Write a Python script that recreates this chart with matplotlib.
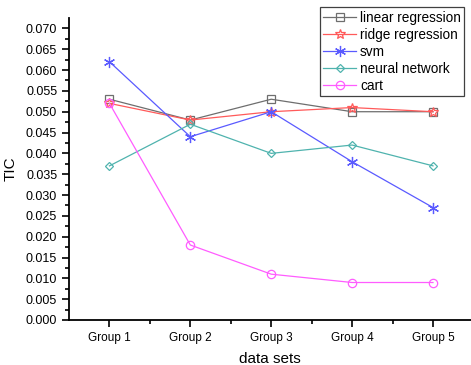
# TIC per data set group for five regression models.
import numpy as np
import matplotlib.pyplot as plt

plt.rcParams['font.family'] = ['Liberation Sans', 'DejaVu Sans']

groups = ["Group 1", "Group 2", "Group 3", "Group 4", "Group 5"]
linear_reg = [0.053, 0.048, 0.053, 0.050, 0.050]
ridge_reg = [0.052, 0.048, 0.050, 0.051, 0.050]
svm = [0.062, 0.044, 0.050, 0.038, 0.027]
neural_net = [0.037, 0.047, 0.040, 0.042, 0.037]
cart = [0.052, 0.018, 0.011, 0.009, 0.009]

x = np.arange(1, len(groups) + 1)

fig = plt.figure(figsize=(4.71, 3.65), dpi=100)
ax = fig.add_axes([0.1465, 0.1233, 0.8535, 0.8274])

STYLE = [
    (linear_reg, "linear regression", "#6e6e6e", "s", 5.5),
    (ridge_reg, "ridge regression", "#ff5a5a", "*", 7.5),
    (svm, "svm", "#5a5aff", (6, 2, 0), 8),
    (neural_net, "neural network", "#4fb3ae", "D", 4.5),
    (cart, "cart", "#ff5cff", "o", 6),
]
for ys, label, color, marker, ms in STYLE:
    ax.plot(x, ys, color=color, lw=0.9, marker=marker, ms=ms,
            mfc="none", mec=color, mew=0.9, label=label)

ax.set_xlim(0.5, 5.47)
ax.set_ylim(0, 0.0725)
ax.set_xticks(x)
ax.set_xticklabels(groups, fontsize=8.5)
ax.set_xticks(np.arange(1.5, 5.5, 1), minor=True)
ax.set_yticks(np.arange(0, 0.0701, 0.005))
ax.set_yticklabels([f"{v:.3f}" for v in np.arange(0, 0.0701, 0.005)], fontsize=9)
ax.set_yticks(np.arange(0.0025, 0.0725, 0.005), minor=True)
ax.tick_params(which="major", length=5, width=1.2)
ax.tick_params(which="minor", length=3, width=1.2)
ax.spines["top"].set_visible(False)
ax.spines["right"].set_visible(False)
ax.spines["left"].set_linewidth(1.3)
ax.spines["bottom"].set_linewidth(1.3)

ax.set_xlabel("data sets", fontsize=11, labelpad=6)
ax.set_ylabel("TIC", fontsize=11, labelpad=6)

leg = ax.legend(loc="upper right", bbox_to_anchor=(0.99, 1.045), fontsize=9.8,
                fancybox=False, framealpha=1, edgecolor="#404040",
                handlelength=2.4, labelspacing=0.22, borderpad=0.25,
                handletextpad=0.3, borderaxespad=0.2)
leg.get_frame().set_linewidth(0.9)

fig.savefig("out.png", dpi=100)
